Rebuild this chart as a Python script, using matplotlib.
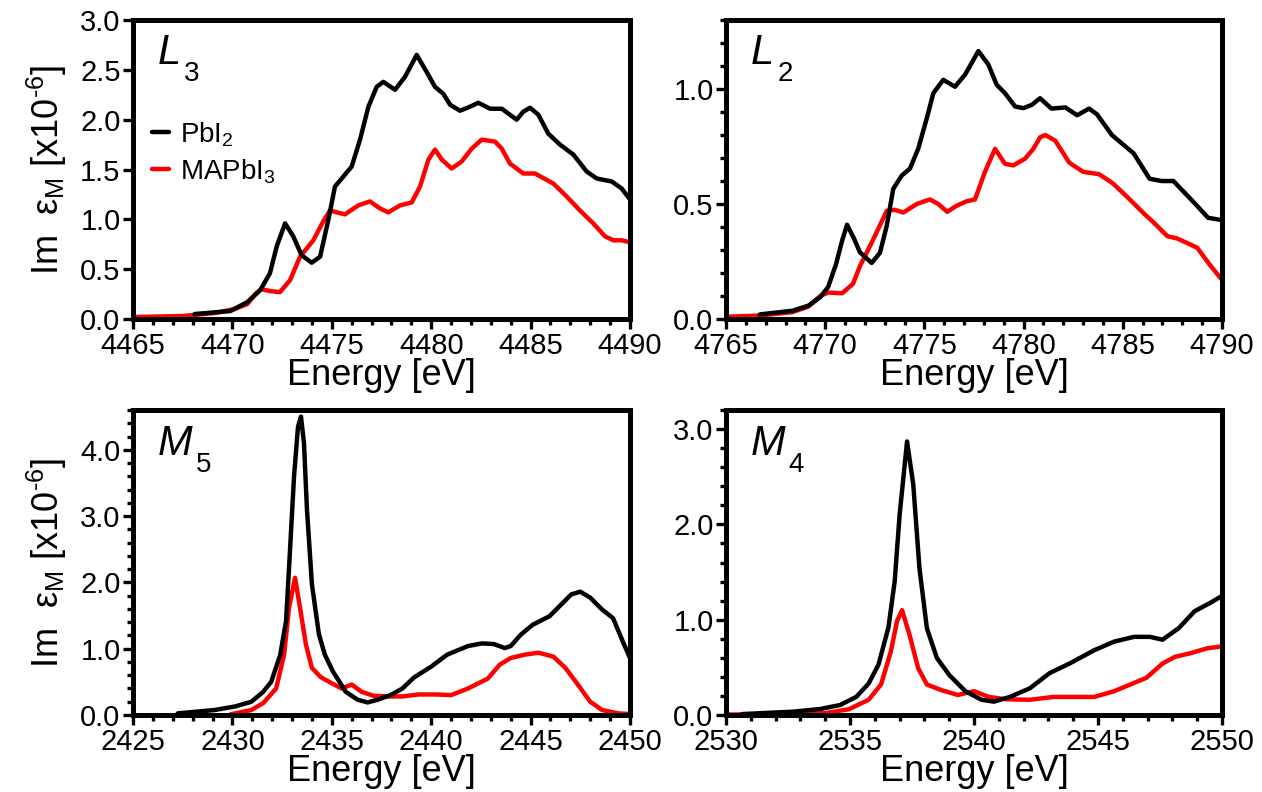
"""
Im eps_M near the Pb L3, L2, M5 and M4 edges: PbI2 vs MAPbI3.
Values read off the published figure.
"""

import numpy as np
import matplotlib.pyplot as plt
import matplotlib.ticker as mtick

plt.rcParams["font.family"] = ["Liberation Sans", "DejaVu Sans"]
plt.rcParams["mathtext.fontset"] = "custom"
plt.rcParams["mathtext.rm"] = "Liberation Sans"
plt.rcParams["mathtext.it"] = "Liberation Sans:italic"
plt.rcParams["mathtext.default"] = "regular"

# ---------------------------------------------------------------------------
# L3 edge
# ---------------------------------------------------------------------------
L3_PBI2_E = [4468.1, 4469.9, 4470.75, 4471.4, 4471.89, 4472.23, 4472.65, 4473.06,
             4473.48, 4473.99, 4474.41, 4474.82, 4475.16, 4475.5, 4476.0, 4476.42,
             4476.84, 4477.26, 4477.59, 4478.18, 4478.68, 4479.27, 4479.77, 4480.19,
             4480.61, 4480.95, 4481.45, 4481.95, 4482.37, 4482.96, 4483.55, 4483.96,
             4484.3, 4484.63, 4484.97, 4485.39, 4485.89, 4486.48, 4487.15, 4487.82,
             4488.33, 4489.08, 4489.58, 4490.0]
L3_PBI2 = [0.05, 0.08, 0.17, 0.29, 0.46, 0.73, 0.96, 0.83,
           0.64, 0.565, 0.625, 0.99, 1.33, 1.41, 1.53, 1.80,
           2.13, 2.33, 2.38, 2.30, 2.43, 2.65, 2.48, 2.33,
           2.26, 2.15, 2.09, 2.13, 2.17, 2.11, 2.11, 2.05,
           2.00, 2.08, 2.12, 2.05, 1.86, 1.75, 1.65, 1.48,
           1.41, 1.38, 1.31, 1.20]
L3_MAPBI3_E = [4465.0, 4467.5, 4469.1, 4470.1, 4470.75, 4471.15, 4471.45, 4471.9,
               4472.39, 4472.9, 4473.4, 4474.07, 4474.57, 4474.91, 4475.25, 4475.66,
               4476.33, 4476.92, 4477.42, 4477.84, 4478.43, 4479.02, 4479.44, 4479.86,
               4480.19, 4480.53, 4481.03, 4481.53, 4482.04, 4482.54, 4483.21, 4483.55,
               4483.96, 4484.63, 4485.22, 4486.14, 4486.81, 4487.48, 4488.15, 4488.74,
               4489.16, 4489.58, 4490.0]
L3_MAPBI3 = [0.02, 0.03, 0.06, 0.10, 0.15, 0.25, 0.30, 0.28,
             0.27, 0.39, 0.625, 0.79, 0.98, 1.09, 1.07, 1.05,
             1.14, 1.18, 1.11, 1.07, 1.14, 1.17, 1.33, 1.60,
             1.70, 1.60, 1.51, 1.58, 1.71, 1.80, 1.78, 1.71,
             1.56, 1.46, 1.46, 1.36, 1.23, 1.09, 0.96, 0.83,
             0.79, 0.79, 0.77]

# ---------------------------------------------------------------------------
# L2 edge
# ---------------------------------------------------------------------------
L2_PBI2_E = [4766.7, 4768.35, 4769.15, 4769.75, 4770.15, 4770.55, 4770.85, 4771.1,
             4771.45, 4771.75, 4772.34, 4772.76, 4773.1, 4773.43, 4773.86, 4774.27,
             4774.69, 4775.12, 4775.45, 4775.95, 4776.54, 4777.05, 4777.72, 4778.22,
             4778.64, 4779.06, 4779.57, 4779.99, 4780.41, 4780.83, 4781.4, 4782.1,
             4782.7, 4783.3, 4783.7, 4784.45, 4785.55, 4786.35, 4786.95, 4787.55,
             4788.55, 4789.3, 4790.0]
L2_PBI2 = [0.02, 0.036, 0.058, 0.095, 0.14, 0.24, 0.34, 0.41,
           0.35, 0.29, 0.244, 0.288, 0.405, 0.566, 0.624, 0.654,
           0.741, 0.873, 0.982, 1.04, 1.01, 1.063, 1.165, 1.107,
           1.019, 0.982, 0.924, 0.917, 0.931, 0.96, 0.915, 0.92,
           0.886, 0.915, 0.89, 0.80, 0.72, 0.61, 0.60, 0.60,
           0.51, 0.44, 0.43]
L2_MAPBI3_E = [4765.0, 4766.7, 4768.35, 4769.15, 4769.75, 4770.15, 4770.85, 4771.4,
               4771.75, 4772.42, 4773.1, 4773.5, 4773.94, 4774.61, 4775.28, 4775.7,
               4776.15, 4776.63, 4777.13, 4777.55, 4778.05, 4778.56, 4779.06, 4779.48,
               4780.07, 4780.49, 4780.83, 4781.1, 4781.6, 4782.3, 4783.0, 4783.8,
               4784.5, 4785.35, 4786.05, 4786.55, 4787.25, 4787.75, 4788.75, 4789.35,
               4790.0]
L2_MAPBI3 = [0.01, 0.015, 0.03, 0.054, 0.10, 0.115, 0.112, 0.153,
             0.23, 0.346, 0.47, 0.475, 0.463, 0.50, 0.52, 0.50,
             0.466, 0.493, 0.512, 0.52, 0.64, 0.74, 0.675, 0.668,
             0.697, 0.74, 0.79, 0.80, 0.775, 0.68, 0.64, 0.63,
             0.59, 0.52, 0.46, 0.42, 0.36, 0.35, 0.31, 0.24,
             0.17]

# ---------------------------------------------------------------------------
# M5 edge
# ---------------------------------------------------------------------------
M5_PBI2_E = [2427.25, 2429.1, 2430.15, 2430.95, 2431.55, 2431.95, 2432.4, 2432.7,
             2432.9, 2433.1, 2433.3, 2433.45, 2433.6, 2433.75, 2434.0, 2434.35,
             2434.65, 2435.05, 2435.7, 2436.3, 2436.8, 2437.3, 2437.95, 2438.55,
             2439.15, 2440.0, 2440.8, 2441.85, 2442.55, 2443.15, 2443.7, 2444.0,
             2444.5, 2445.1, 2445.95, 2446.55, 2447.05, 2447.5, 2448.0, 2448.6,
             2449.15, 2449.65, 2450.0]
M5_PBI2 = [0.025, 0.075, 0.13, 0.20, 0.35, 0.50, 0.90, 1.42,
           2.50, 3.60, 4.35, 4.50, 4.10, 3.10, 1.97, 1.22,
           0.91, 0.66, 0.35, 0.23, 0.19, 0.23, 0.30, 0.40,
           0.57, 0.73, 0.91, 1.04, 1.08, 1.07, 1.01, 1.04,
           1.21, 1.36, 1.49, 1.67, 1.82, 1.86, 1.77, 1.59,
           1.46, 1.10, 0.86]
M5_MAPBI3_E = [2429.9, 2430.95, 2431.55, 2432.2, 2432.6, 2432.85, 2433.15, 2433.4,
               2433.7, 2434.0, 2434.45, 2435.05, 2435.5, 2436.0, 2436.5, 2437.1,
               2437.95, 2438.55, 2439.35, 2440.2, 2441.0, 2441.85, 2442.85, 2443.45,
               2444.0, 2444.7, 2445.4, 2446.15, 2446.75, 2447.4, 2448.0, 2448.6,
               2449.4, 2450.0]
M5_MAPBI3 = [0.01, 0.075, 0.18, 0.40, 0.91, 1.62, 2.07, 1.62,
             1.06, 0.71, 0.57, 0.47, 0.40, 0.46, 0.35, 0.29,
             0.28, 0.28, 0.31, 0.31, 0.30, 0.40, 0.55, 0.76,
             0.86, 0.91, 0.94, 0.88, 0.71, 0.45, 0.20, 0.075,
             0.025, 0.015]

# ---------------------------------------------------------------------------
# M4 edge
# ---------------------------------------------------------------------------
M4_PBI2_E = [2530.65, 2532.7, 2533.8, 2534.6, 2535.25, 2535.75, 2536.15, 2536.55,
             2536.8, 2537.0, 2537.3, 2537.55, 2537.8, 2538.1, 2538.5, 2539.0,
             2539.65, 2540.3, 2540.8, 2541.45, 2542.25, 2543.05, 2543.85, 2544.85,
             2545.65, 2546.45, 2547.1, 2547.6, 2548.25, 2548.9, 2549.55, 2550.0]
M4_PBI2 = [0.01, 0.035, 0.063, 0.105, 0.19, 0.33, 0.53, 0.92,
           1.40, 2.10, 2.87, 2.42, 1.54, 0.91, 0.60, 0.42,
           0.25, 0.16, 0.14, 0.19, 0.28, 0.44, 0.54, 0.68,
           0.77, 0.82, 0.82, 0.79, 0.91, 1.09, 1.18, 1.25]
M4_MAPBI3_E = [2530.0, 2532.7, 2534.0, 2534.95, 2535.75, 2536.25, 2536.65, 2536.9,
               2537.1, 2537.4, 2537.75, 2538.1, 2538.7, 2539.35, 2540.0, 2540.6,
               2541.3, 2542.25, 2543.2, 2544.85, 2545.65, 2546.3, 2546.95, 2547.6,
               2548.1, 2548.75, 2549.4, 2550.0]
M4_MAPBI3 = [0.005, 0.01, 0.02, 0.06, 0.16, 0.32, 0.67, 0.99,
             1.10, 0.84, 0.49, 0.32, 0.26, 0.21, 0.25, 0.19,
             0.165, 0.16, 0.19, 0.19, 0.25, 0.32, 0.39, 0.54,
             0.61, 0.65, 0.70, 0.72]

EDGE_LETTERS = ["L", "L", "M", "M"]
EDGE_INDEX = ["3", "2", "5", "4"]
INDEX_DX = [19, 19, 27, 27]   # points, offset of the index from the letter
XLIMS = [(4465, 4490), (4765, 4790), (2425, 2450), (2530, 2550)]
YLIMS = [(0, 3.0), (0, 1.3), (0, 4.6), (0, 3.2)]
YMAJOR = [0.5, 0.5, 1.0, 1.0]
YMINOR = [0.5, 0.1, 0.2, 0.2]

PANELS = [
    (L3_PBI2_E, L3_PBI2, L3_MAPBI3_E, L3_MAPBI3),
    (L2_PBI2_E, L2_PBI2, L2_MAPBI3_E, L2_MAPBI3),
    (M5_PBI2_E, M5_PBI2, M5_MAPBI3_E, M5_MAPBI3),
    (M4_PBI2_E, M4_PBI2, M4_MAPBI3_E, M4_MAPBI3),
]

# axes rectangles in figure fractions (left, bottom, width, height)
RECTS = [
    (0.1054, 0.5972, 0.3938, 0.3775),
    (0.5753, 0.5972, 0.3930, 0.3775),
    (0.1054, 0.0972, 0.3938, 0.3851),
    (0.5753, 0.0972, 0.3930, 0.3851),
]

fig = plt.figure(figsize=(12.62, 7.92), dpi=100)

for i, (e1, y1, e2, y2) in enumerate(PANELS):
    ax = fig.add_axes(RECTS[i])
    l1, = ax.plot(e1, y1, color="black", lw=3.2, label=r"PbI$_2$",
                  solid_joinstyle="round", solid_capstyle="round")
    l2, = ax.plot(e2, y2, color="#ff0000", lw=3.2, label=r"MAPbI$_3$",
                  solid_joinstyle="round", solid_capstyle="round")
    l1.set_zorder(3)
    ax.set_xlim(*XLIMS[i])
    ax.set_ylim(*YLIMS[i])

    ax.xaxis.set_major_locator(mtick.MultipleLocator(5))
    ax.xaxis.set_minor_locator(mtick.MultipleLocator(1))
    ax.yaxis.set_major_locator(mtick.MultipleLocator(YMAJOR[i]))
    ax.yaxis.set_minor_locator(mtick.MultipleLocator(YMINOR[i]))
    ax.yaxis.set_major_formatter(mtick.FormatStrFormatter("%.1f"))

    ax.tick_params(which="both", direction="out", width=2.4, labelsize=21,
                   top=False, right=False)
    ax.tick_params(which="major", length=7, pad=2)
    ax.tick_params(which="minor", length=4.5)
    for sp in ax.spines.values():
        sp.set_linewidth(3.6)

    ax.set_xlabel("Energy [eV]", fontsize=26, labelpad=-1)
    if i % 2 == 0:
        ax.set_ylabel(r"Im  ε$_M$ [x10$^{\text{-6}}$]", fontsize=26, labelpad=8)

    # edge label: italic letter with a low, offset index
    ax.text(0.05, 0.955, EDGE_LETTERS[i], transform=ax.transAxes,
            fontsize=30, style="italic", va="top", ha="left")
    ax.annotate(EDGE_INDEX[i], xy=(0.05, 0.955), xycoords="axes fraction",
                xytext=(INDEX_DX[i], -20), textcoords="offset points",
                fontsize=20, va="top", ha="left")

    if i == 0:
        ax.legend(loc="upper left", bbox_to_anchor=(0.0, 0.73), frameon=False,
                  fontsize=20, handlelength=0.6, handletextpad=0.4,
                  labelspacing=0.3, borderaxespad=0.3)

fig.savefig("out.png", dpi=100)
